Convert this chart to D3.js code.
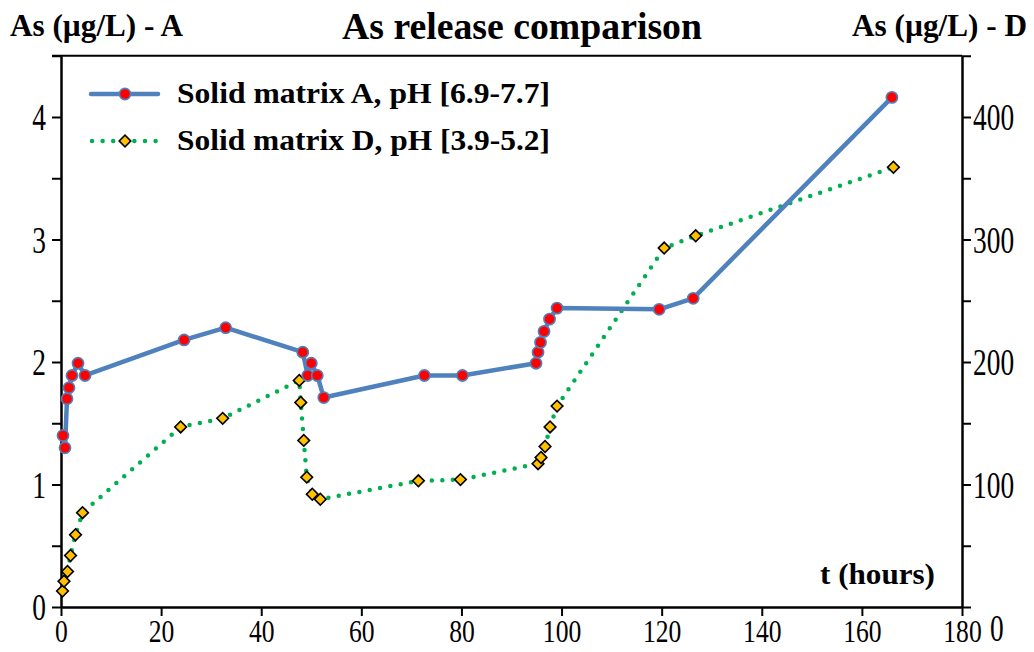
<!DOCTYPE html>
<html>
<head>
<meta charset="utf-8">
<script src="https://cdn.jsdelivr.net/npm/d3@7"></script>
<style>
  body { margin: 0; background: #fff; }
  svg { display: block; font-family: "Liberation Serif", "Times New Roman", serif; }
</style>
</head>
<body>
<svg width="1034" height="652"></svg>
<script>
const LINE_A_COLOR = '#4f81bd';
const DOT_A_COLOR = '#ff0000';
const LINE_D_COLOR = '#00b050';
const DOT_D_COLOR = '#ffc000';

// time (hours) and As for matrix A (left axis, µg/L)
const timeA = [0.4, 0.8, 1.2, 1.6, 2.2, 3.4, 4.8, 24.6, 32.9, 48.3, 49.3, 50, 51.2, 52.5,
    72.6, 80.2, 94.9, 95.3, 95.8, 96.5, 97.6, 99.1, 119.5, 126.3, 166];
const asA = [1.40, 1.30, 1.70, 1.79, 1.89, 1.99, 1.89, 2.18, 2.28, 2.08, 1.89, 1.99, 1.89, 1.71,
    1.89, 1.89, 1.99, 2.08, 2.16, 2.25, 2.35, 2.44, 2.43, 2.52, 4.16];

// time (hours) and As for matrix D (right axis, µg/L)
const timeD = [0.3, 0.6, 1.3, 1.9, 2.9, 4.3, 23.9, 32.3, 47.6, 47.9, 48.5, 49.1, 50.2, 51.8,
    71.4, 79.8, 95.3, 95.9, 96.7, 97.7, 99.1, 120.5, 126.8, 166.3];
const asD = [13, 21, 29, 42, 59, 77, 147, 154, 185, 167, 136, 106, 92, 88,
    103, 104, 117, 122, 131, 147, 164, 293, 303, 359];

const xTicks = [0, 20, 40, 60, 80, 100, 120, 140, 160, 180];
const leftTicks = [0, 0.5, 1, 1.5, 2, 2.5, 3, 3.5, 4, 4.5];
const rightTicks = [0, 50, 100, 150, 200, 250, 300, 350, 400, 450];

const legendLabels = ['Solid matrix A, pH [6.9-7.7]', 'Solid matrix D, pH [3.9-5.2]'];

const seriesA = timeA.map((t, i) => ({ t: t, v: asA[i] }));
const seriesD = timeD.map((t, i) => ({ t: t, v: asD[i] }));

const plotLeft = 61, plotRight = 962, plotTop = 55.75, plotBottom = 607;

// squeeze text horizontally (the original fonts are tall and narrow)
function condense(sel, factor) {
    sel.each(function () {
        const w = this.getComputedTextLength();
        if (w > 0) {
            d3.select(this).attr('textLength', w * factor).attr('lengthAdjust', 'spacingAndGlyphs');
        }
    });
}

const svg = d3.select('svg');

const x = d3.scaleLinear().domain([0, 180]).range([plotLeft, plotRight]);
const yA = d3.scaleLinear().domain([0, 4.5]).range([plotBottom, plotTop]);
const yD = d3.scaleLinear().domain([0, 450]).range([plotBottom, plotTop]);

/* axes */
const gx = svg.append('g')
    .attr('transform', 'translate(0,' + plotBottom + ')')
    .call(d3.axisBottom(x).tickValues(xTicks).tickSize(9).tickSizeOuter(0).tickPadding(3));

const gl = svg.append('g')
    .attr('transform', 'translate(' + plotLeft + ',0)')
    .call(d3.axisLeft(yA).tickValues(leftTicks).tickSize(9).tickSizeOuter(0).tickPadding(6)
        .tickFormat(d => Number.isInteger(d) ? d : ''));

const gr = svg.append('g')
    .attr('transform', 'translate(' + plotRight + ',0)')
    .call(d3.axisRight(yD).tickValues(rightTicks).tickSize(9).tickSizeOuter(0).tickPadding(2)
        .tickFormat(d => d % 100 === 0 ? d : ''));

[gx, gl, gr].forEach(g => {
    g.select('.domain').attr('stroke', '#000').attr('stroke-width', 2.5);
    g.selectAll('.tick line').attr('stroke', '#000').attr('stroke-width', 2);
});
[gl, gr].forEach(g => {
    g.selectAll('.tick text')
        .attr('fill', '#000')
        .style('font-family', '"Liberation Serif", serif')
        .style('font-size', '37px')
        .call(condense, 0.74)
        .attr('dy', '0.34em');
});
gx.selectAll('.tick text')
    .attr('fill', '#000')
    .style('font-family', '"Liberation Serif", serif')
    .style('font-size', '32px')
    .call(condense, 0.8)
    .attr('dy', '0.71em');
gr.selectAll('.tick text').filter(d => d === 0).attr('dy', '0.9em').attr('dx', 17);

// top frame line
svg.append('line')
    .attr('x1', plotLeft - 9).attr('x2', plotRight)
    .attr('y1', plotTop).attr('y2', plotTop)
    .attr('stroke', '#000').attr('stroke-width', 2);

/* series D : dotted green with diamonds */
svg.append('path')
    .datum(seriesD)
    .attr('fill', 'none')
    .attr('stroke', LINE_D_COLOR)
    .attr('stroke-width', 4.5)
    .attr('stroke-linecap', 'round')
    .attr('stroke-dasharray', '0 10.5')
    .attr('d', d3.line().x(d => x(d.t)).y(d => yD(d.v)));

/* series A : solid blue with red dots */
svg.append('path')
    .datum(seriesA)
    .attr('fill', 'none')
    .attr('stroke', LINE_A_COLOR)
    .attr('stroke-width', 4.5)
    .attr('stroke-linejoin', 'round')
    .attr('d', d3.line().x(d => x(d.t)).y(d => yA(d.v)));

const diamond = d3.symbol().type(d3.symbolSquare).size(68);

svg.append('g').selectAll('path')
    .data(seriesD)
    .join('path')
    .attr('d', diamond)
    .attr('transform', d => 'translate(' + x(d.t) + ',' + yD(d.v) + ') rotate(45)')
    .attr('fill', DOT_D_COLOR)
    .attr('stroke', '#000')
    .attr('stroke-width', 1.6);

svg.append('g').selectAll('circle')
    .data(seriesA)
    .join('circle')
    .attr('cx', d => x(d.t))
    .attr('cy', d => yA(d.v))
    .attr('r', 5.6)
    .attr('fill', DOT_A_COLOR)
    .attr('stroke', LINE_A_COLOR)
    .attr('stroke-width', 1.6);

/* legend */
const legend = svg.append('g');
legend.append('line')
    .attr('x1', 91).attr('x2', 158).attr('y1', 94).attr('y2', 94)
    .attr('stroke', LINE_A_COLOR).attr('stroke-width', 4.5).attr('stroke-linecap', 'round');
legend.append('circle')
    .attr('cx', 125).attr('cy', 94).attr('r', 5.6)
    .attr('fill', DOT_A_COLOR).attr('stroke', LINE_A_COLOR).attr('stroke-width', 1.6);
legend.append('line')
    .attr('x1', 92).attr('x2', 156).attr('y1', 141).attr('y2', 141)
    .attr('stroke', LINE_D_COLOR).attr('stroke-width', 4.5).attr('stroke-linecap', 'round')
    .attr('stroke-dasharray', '0 10.6');
legend.append('path')
    .attr('d', diamond)
    .attr('transform', 'translate(125,141) rotate(45)')
    .attr('fill', DOT_D_COLOR).attr('stroke', '#000').attr('stroke-width', 1.6);

legend.selectAll('text')
    .data(legendLabels)
    .join('text')
    .attr('x', 177)
    .attr('y', (d, i) => 103 + i * 47)
    .attr('textLength', 373)
    .attr('lengthAdjust', 'spacingAndGlyphs')
    .style('font-weight', 'bold')
    .style('font-size', '29px')
    .text(d => d);

/* titles */
svg.append('text')
    .attr('x', 342).attr('y', 39)
    .attr('textLength', 360).attr('lengthAdjust', 'spacingAndGlyphs')
    .style('font-weight', 'bold').style('font-size', '38px')
    .text('As release comparison');

svg.append('text')
    .attr('x', 10).attr('y', 36)
    .attr('textLength', 173).attr('lengthAdjust', 'spacingAndGlyphs')
    .style('font-weight', 'bold').style('font-size', '31px')
    .text('As (µg/L) - A');

svg.append('text')
    .attr('x', 852).attr('y', 36)
    .attr('textLength', 175).attr('lengthAdjust', 'spacingAndGlyphs')
    .style('font-weight', 'bold').style('font-size', '31px')
    .text('As (µg/L) - D');

svg.append('text')
    .attr('x', 820).attr('y', 584)
    .attr('textLength', 115).attr('lengthAdjust', 'spacingAndGlyphs')
    .style('font-weight', 'bold').style('font-size', '30px')
    .text('t (hours)');
</script>
</body>
</html>
